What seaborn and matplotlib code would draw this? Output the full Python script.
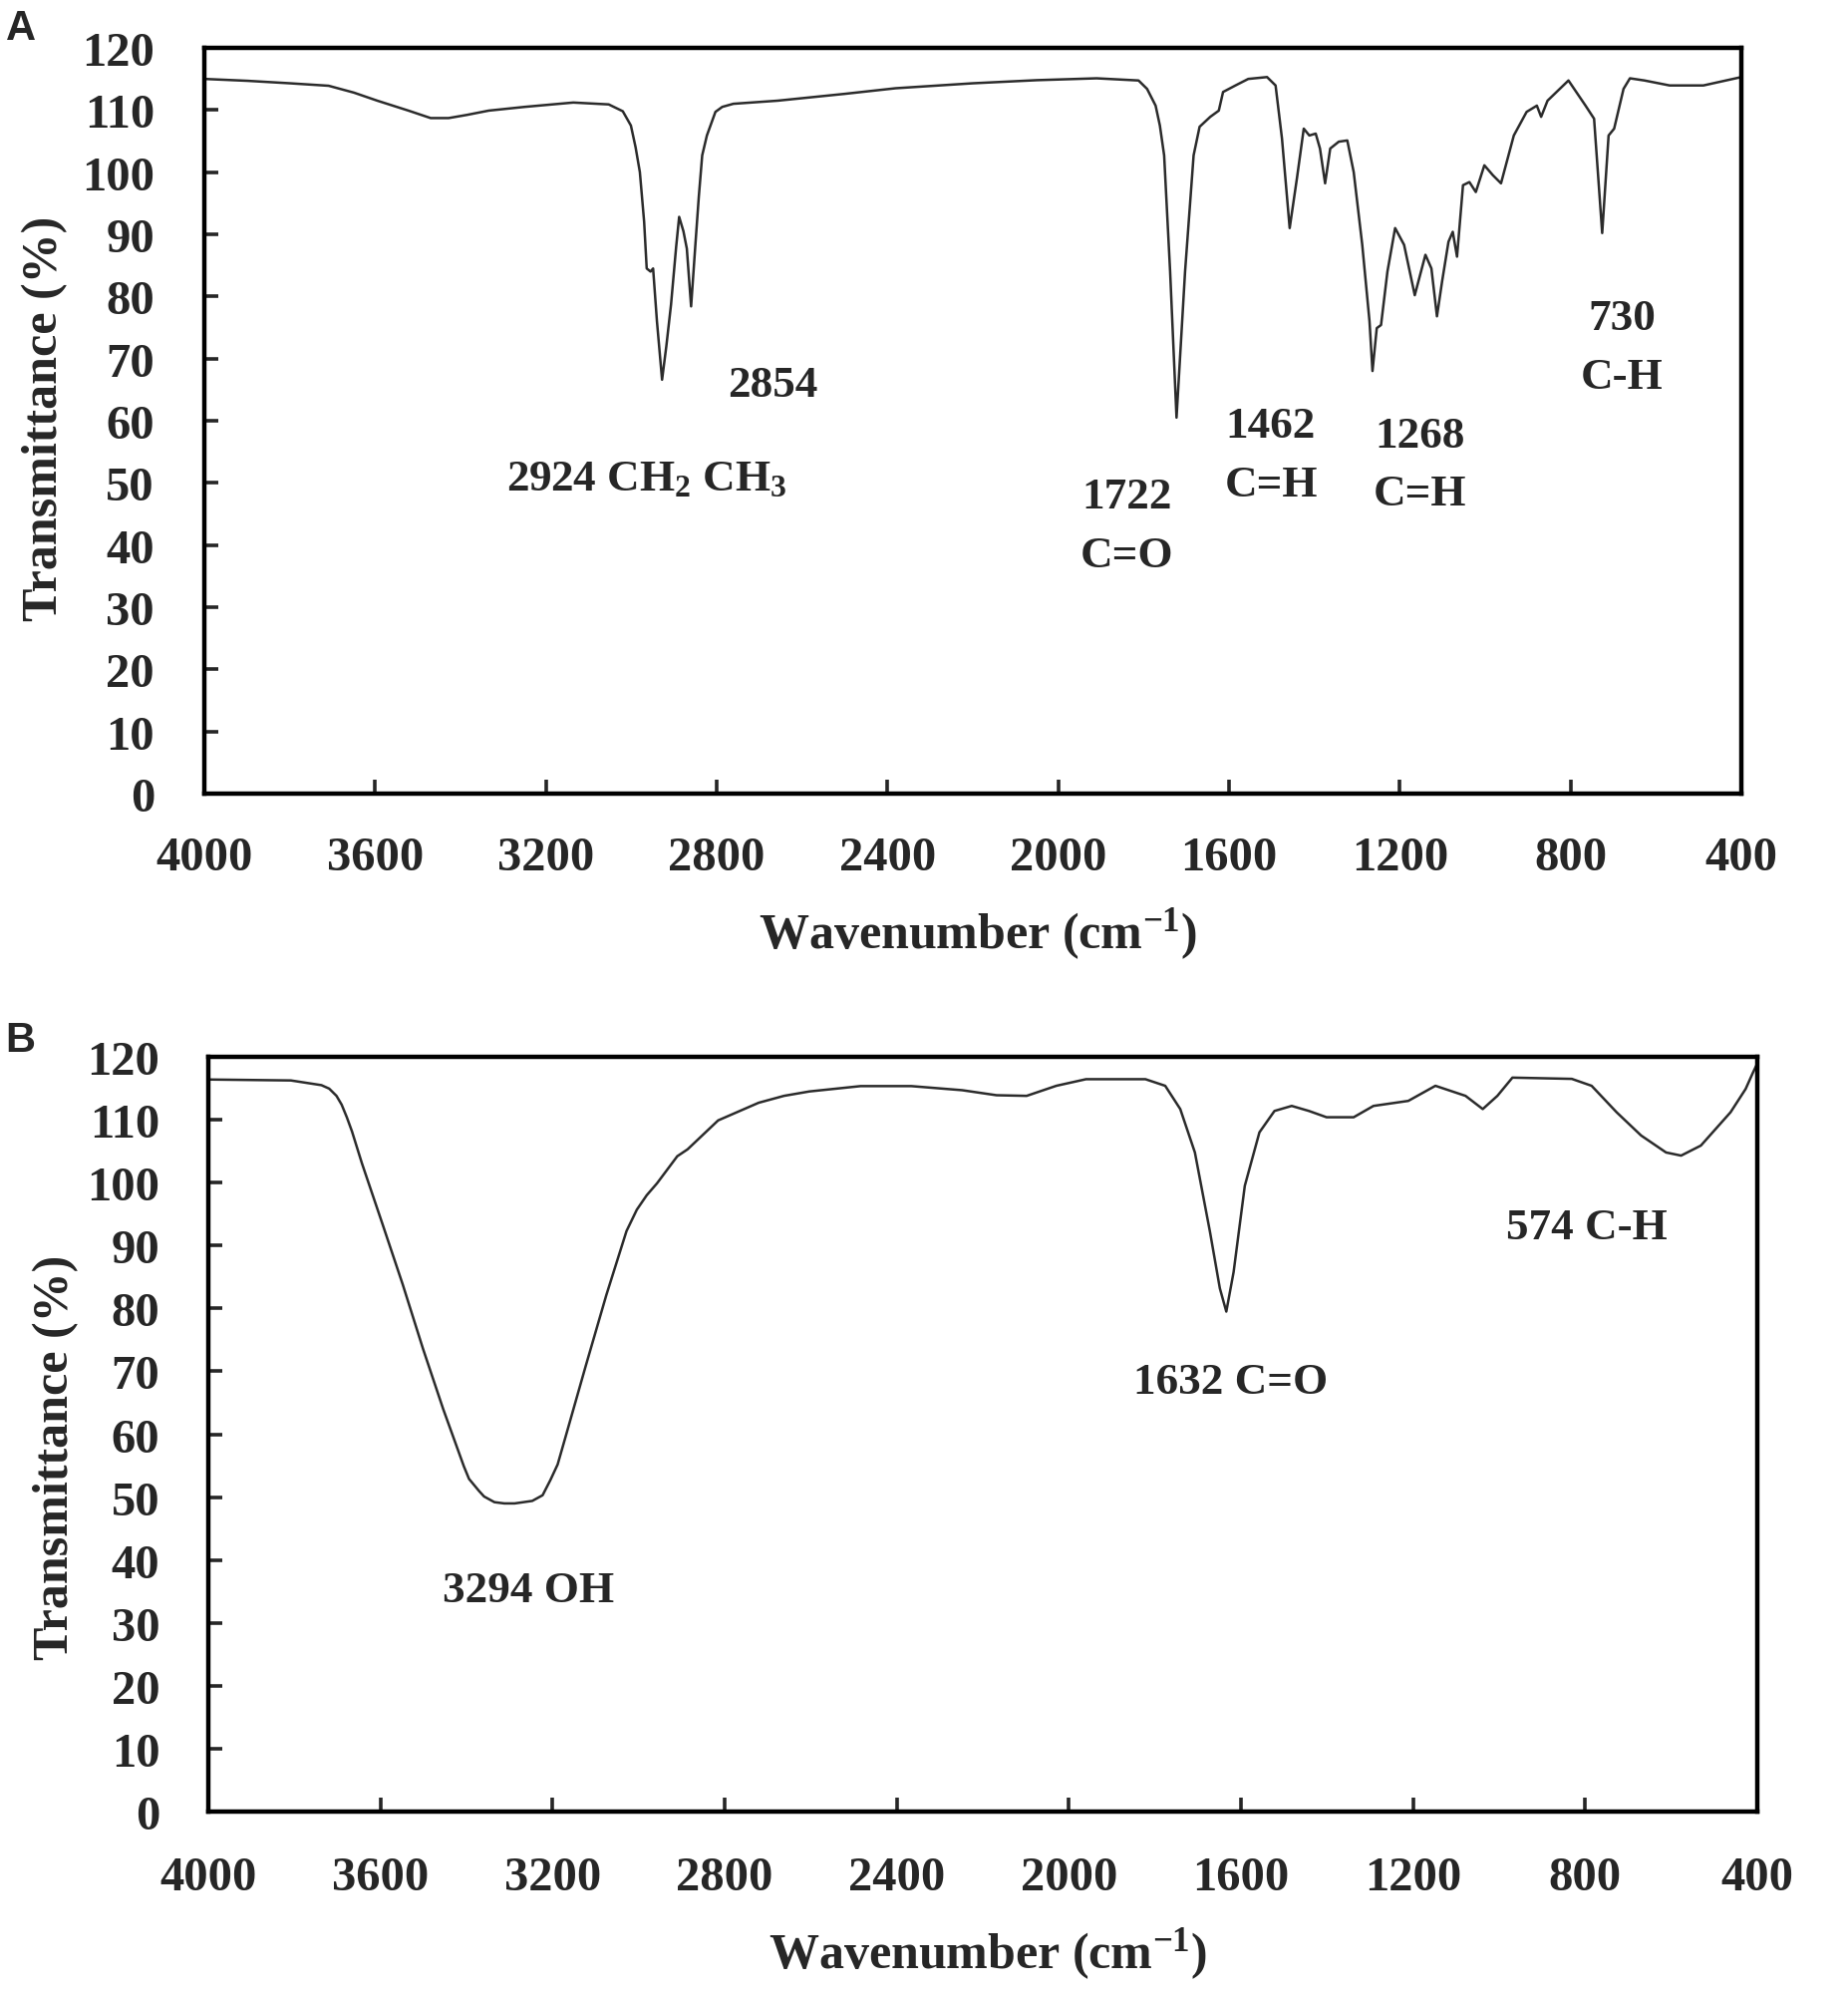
import matplotlib
matplotlib.use("Agg")
import matplotlib.pyplot as plt
import seaborn as sns
import pandas as pd

# ---- spectrum A (wavenumber cm-1, transmittance %) ----
wn_a = [4000, 3900, 3800, 3709, 3650, 3595, 3522, 3470, 3428, 3386, 3334, 3250, 3136,
        3053, 3020, 3001, 2990, 2980, 2970, 2964, 2955, 2949, 2940, 2928, 2918,
        2907, 2895, 2888, 2878, 2870, 2860, 2850, 2842, 2834, 2823, 2803, 2787, 2761,
        2657, 2500, 2381, 2200, 2050, 1910, 1812, 1792, 1772, 1762, 1752, 1738, 1723, 1703,
        1683, 1669, 1644, 1624, 1614, 1585, 1555, 1511, 1491, 1476, 1458, 1441,
        1425, 1412, 1397, 1387, 1375, 1363, 1343, 1323, 1308, 1288, 1271, 1264,
        1254, 1244, 1229, 1211, 1190, 1165, 1140, 1126, 1113, 1101, 1086, 1076,
        1066, 1052, 1037, 1022, 1002, 982, 963, 933, 903, 879, 869, 854, 805,
        765, 745, 726, 711, 698, 676, 661, 627, 568, 489, 400]
tr_a = [115.0, 114.7, 114.3, 113.9, 112.8, 111.5, 109.9, 108.7, 108.7, 109.2, 109.9, 110.5, 111.2,
        110.9, 109.8, 107.5, 104.0, 100.0, 92.0, 84.5, 84.0, 84.5, 76.0, 66.6, 72.0,
        78.7, 88.0, 92.8, 90.5, 87.7, 78.4, 88.3, 96.0, 102.7, 105.9, 109.7, 110.5, 111.0,
        111.5, 112.6, 113.5, 114.3, 114.8, 115.1, 114.75, 113.4, 110.7, 107.5, 102.7, 84.0, 60.5, 84.0,
        102.7, 107.3, 108.9, 109.9, 112.9, 113.95, 115.0, 115.3, 113.95, 105.4, 91.0, 99.0,
        107.0, 105.9, 106.2, 103.8, 98.2, 103.8, 104.9, 105.1, 100.0, 88.3, 76.0, 68.0,
        74.9, 75.4, 84.0, 91.0, 88.3, 80.2, 86.7, 84.5, 76.8, 82.4, 88.8, 90.4,
        86.4, 97.9, 98.4, 96.8, 101.1, 99.5, 98.2, 105.9, 109.7, 110.7, 108.9, 111.5, 114.75,
        110.7, 108.6, 90.2, 105.9, 107.0, 113.4, 115.1, 114.75, 113.95, 113.95, 115.3]

# ---- spectrum B ----
wn_b = [4000, 3808, 3737, 3719, 3702, 3690, 3678, 3666, 3643, 3595, 3548, 3501, 3454,
        3406, 3394, 3371, 3359, 3335, 3312, 3288, 3247, 3223, 3205, 3188, 3170, 3123,
        3075, 3028, 3004, 2981, 2957, 2910, 2886, 2815, 2768, 2721, 2662,
        2603, 2484, 2366, 2248, 2168, 2098, 2029, 1960, 1822, 1776, 1741, 1707,
        1672, 1649, 1634, 1617, 1591, 1557, 1522, 1482, 1442, 1401, 1338, 1292,
        1211, 1148, 1078, 1038, 1004, 969, 900, 831, 785, 727, 670, 612, 577,
        531, 462, 427, 410, 401]
tr_b = [116.4, 116.25, 115.5, 114.95, 113.8, 112.4, 110.4, 108.15, 103.1, 93.4, 83.8, 73.6, 64.0,
        54.9, 52.9, 51.0, 50.1, 49.2, 49.0, 49.0, 49.4, 50.3, 52.7, 55.2, 59.5, 70.8,
        82.1, 92.3, 95.7, 98.0, 99.9, 104.2, 105.3, 109.9, 111.3, 112.7, 113.8,
        114.5, 115.35, 115.35, 114.7, 113.9, 113.8, 115.4, 116.45, 116.45, 115.4, 111.7, 104.8,
        92.2, 83.2, 79.5, 85.8, 99.5, 108.0, 111.4, 112.2, 111.4, 110.4, 110.4, 112.2,
        113.0, 115.4, 113.8, 111.7, 113.8, 116.7, 116.6, 116.5, 115.4, 111.2, 107.5, 104.8, 104.3,
        105.9, 111.2, 114.9, 117.5, 118.8]

# ---- band labels ----
notes_a = ["2854", "2924 CH$_2$ CH$_3$", "1722\nC=O", "1462\nC=H", "1268\nC=H", "730\nC-H"]
notes_b = ["3294 OH", "1632 C=O", "574 C-H"]

x_ticks = [4000, 3600, 3200, 2800, 2400, 2000, 1600, 1200, 800, 400]
y_ticks = [0, 10, 20, 30, 40, 50, 60, 70, 80, 90, 100, 110, 120]

sns.set_style("ticks")
plt.rcParams['font.family'] = ['Liberation Serif', 'DejaVu Serif']
plt.rcParams['font.weight'] = 'bold'
plt.rcParams['mathtext.fontset'] = 'custom'
plt.rcParams['mathtext.rm'] = 'Liberation Serif:bold'
plt.rcParams['mathtext.bf'] = 'Liberation Serif:bold'
plt.rcParams['mathtext.it'] = 'Liberation Serif:bold'


def style_axis(ax, xpad, ypad, ylab_x, ylab_y, xlab_y):
    '''
        Frame, ticks and labels like the original figure
    '''
    ax.set_xlim(4000, 400)
    ax.set_ylim(0, 120)
    ax.set_xticks(x_ticks)
    ax.set_yticks(y_ticks)
    ax.tick_params(axis='x', direction='in', length=10, width=2.6, pad=xpad,
                   labelsize=35, bottom=True, top=False)
    ax.tick_params(axis='y', direction='in', length=10, width=2.6, pad=ypad,
                   labelsize=35, left=True, right=False)
    for t in ax.get_xticklabels() + ax.get_yticklabels():
        t.set_fontweight('bold')
    for s in ax.spines.values():
        s.set_visible(True)
        s.set_linewidth(3.2)
        s.set_color('black')
    ax.set_xlabel("Wavenumber (cm$^{-1}$)", fontsize=36, fontweight='bold')
    ax.set_ylabel("Transmittance (%)", fontsize=36, fontweight='bold')
    ax.xaxis.label.set_va('center')
    ax.yaxis.label.set_va('center')
    ax.xaxis.set_label_coords(0.503, xlab_y)
    ax.yaxis.set_label_coords(ylab_x, ylab_y)


fig = plt.figure(figsize=(18.54, 20.08), dpi=100)
ax_a = fig.add_axes([0.1106, 0.6031, 0.8317, 0.3725])
ax_b = fig.add_axes([0.1127, 0.0946, 0.8382, 0.3770])

df_a = pd.DataFrame({"wn": wn_a, "tr": tr_a})
df_b = pd.DataFrame({"wn": wn_b, "tr": tr_b})
sns.lineplot(data=df_a, x="wn", y="tr", ax=ax_a, color='#2b2b2b', lw=1.8,
             estimator=None, sort=False)
sns.lineplot(data=df_b, x="wn", y="tr", ax=ax_b, color='#2b2b2b', lw=1.8,
             estimator=None, sort=False)

style_axis(ax_a, 30, 36, -0.104, 0.504, -0.188)
style_axis(ax_b, 32, 35, -0.0985, 0.47, -0.188)

# band annotations (placed on the baseline of the last line)
note_kw = dict(fontsize=32.5, fontweight='bold', linespacing=1.6, va='baseline')
ax_a.text(2669, 64.0, notes_a[0], ha='center', **note_kw)
ax_a.text(3292, 48.9, notes_a[1], ha='left', **note_kw)
ax_a.text(1840, 36.6, notes_a[2], ha='center', multialignment='center', **note_kw)
ax_a.text(1502, 48.0, notes_a[3], ha='center', multialignment='center', **note_kw)
ax_a.text(1152, 46.5, notes_a[4], ha='center', multialignment='center', **note_kw)
ax_a.text(680, 65.3, notes_a[5], ha='center', multialignment='center', **note_kw)

ax_b.text(3256, 33.4, notes_b[0], ha='center', **note_kw)
ax_b.text(1623, 66.6, notes_b[1], ha='center', **note_kw)
ax_b.text(796, 91.1, notes_b[2], ha='center', **note_kw)

# panel letters
fig.text(6 / 1854, 1 - 9 / 2008, "A", ha='left', va='top', fontsize=30,
         fontweight='bold', family='Liberation Sans')
fig.text(5 / 1854, 1 - 1024 / 2008, "B", ha='left', va='top', fontsize=30,
         fontweight='bold', family='Liberation Sans')

fig.savefig("out.png", dpi=100, facecolor='white')
